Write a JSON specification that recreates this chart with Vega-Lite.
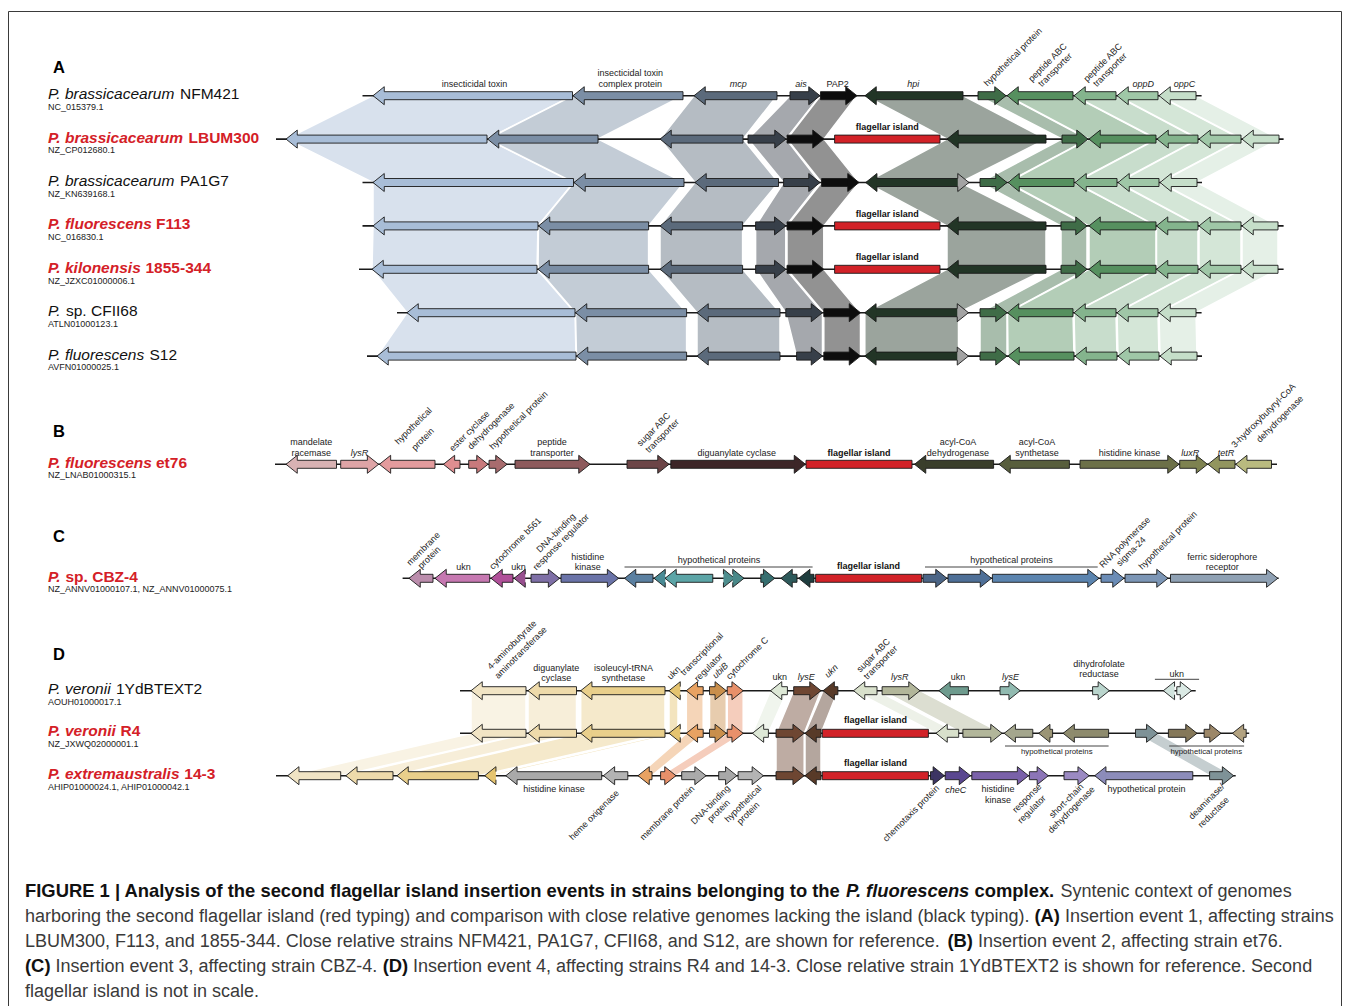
{
  "$schema": "https://vega.github.io/schema/vega-lite/v6.json",
  "width": 1357,
  "height": 1006,
  "autosize": {"type": "none"},
  "padding": 0,
  "background": "white",
  "config": {"view": {"stroke": null}, "text": {"font": "Liberation Sans, Arial, Helvetica, sans-serif"}},
  "datasets": {
    "frame": [
      {"x1": 8.5, "x2": 8.5, "y1": 11.5, "y2": 1006},
      {"x1": 8.5, "x2": 1341.5, "y1": 11.5, "y2": 11.5},
      {"x1": 1341.5, "x2": 1341.5, "y1": 11.5, "y2": 1006}
    ],
    "backbones": [
      {"track": 95.7, "left": 362.5, "right": 1201.6},
      {"track": 139.1, "left": 276, "right": 1283.6},
      {"track": 182.5, "left": 362.5, "right": 1202},
      {"track": 225.9, "left": 362.5, "right": 1283.6},
      {"track": 269.3, "left": 359, "right": 1283.6},
      {"track": 312.7, "left": 397, "right": 1201.6},
      {"track": 356.1, "left": 367, "right": 1202},
      {"track": 464.3, "left": 275, "right": 1277},
      {"track": 578.3, "left": 402.6, "right": 1278.7},
      {"track": 690.7, "left": 460, "right": 1195.7},
      {"track": 733.3, "left": 460, "right": 1249.2},
      {"track": 775.7, "left": 276, "right": 1235.7}
    ],
    "brackets": [
      {"track": 567, "left": 624.5, "right": 812.6},
      {"track": 567, "left": 925, "right": 1097.7},
      {"track": 679.3, "left": 1154.9, "right": 1199.1},
      {"track": 746, "left": 1005, "right": 1108.6},
      {"track": 746, "left": 1169.2, "right": 1244.1}
    ],
    "genes": [
      {"track": 95.7, "gene": "a_toxin", "strand": "L", "left": 373, "right": 572.5},
      {"track": 95.7, "gene": "a_complex", "strand": "L", "left": 573, "right": 683},
      {"track": 95.7, "gene": "a_mcp", "strand": "L", "left": 694, "right": 777},
      {"track": 95.7, "gene": "a_ais", "strand": "R", "left": 790, "right": 820},
      {"track": 95.7, "gene": "a_pap2", "strand": "R", "left": 820.5, "right": 857},
      {"track": 95.7, "gene": "a_hpi", "strand": "L", "left": 865, "right": 963},
      {"track": 95.7, "gene": "a_hyp", "strand": "R", "left": 978, "right": 1006},
      {"track": 95.7, "gene": "a_pep1", "strand": "L", "left": 1007, "right": 1073},
      {"track": 95.7, "gene": "a_pep2", "strand": "L", "left": 1074, "right": 1116},
      {"track": 95.7, "gene": "a_oppD", "strand": "L", "left": 1117, "right": 1158},
      {"track": 95.7, "gene": "a_oppC", "strand": "L", "left": 1159, "right": 1196},

      {"track": 139.1, "gene": "a_toxin", "strand": "L", "left": 286, "right": 487},
      {"track": 139.1, "gene": "a_complex", "strand": "L", "left": 487.5, "right": 598},
      {"track": 139.1, "gene": "a_mcp", "strand": "L", "left": 660, "right": 743},
      {"track": 139.1, "gene": "a_ais", "strand": "R", "left": 748, "right": 786},
      {"track": 139.1, "gene": "a_pap2", "strand": "R", "left": 787, "right": 824},
      {"track": 139.1, "gene": "flag", "strand": "N", "left": 834.6, "right": 940},
      {"track": 139.1, "gene": "a_hpi", "strand": "L", "left": 947, "right": 1046},
      {"track": 139.1, "gene": "a_hyp", "strand": "R", "left": 1062, "right": 1088},
      {"track": 139.1, "gene": "a_pep1", "strand": "L", "left": 1089, "right": 1156},
      {"track": 139.1, "gene": "a_pep2", "strand": "L", "left": 1157, "right": 1198},
      {"track": 139.1, "gene": "a_oppD", "strand": "L", "left": 1199, "right": 1241},
      {"track": 139.1, "gene": "a_oppC", "strand": "L", "left": 1242, "right": 1279},

      {"track": 182.5, "gene": "a_toxin", "strand": "L", "left": 373, "right": 573.5},
      {"track": 182.5, "gene": "a_complex", "strand": "L", "left": 574, "right": 684},
      {"track": 182.5, "gene": "a_mcp", "strand": "L", "left": 695, "right": 778.5},
      {"track": 182.5, "gene": "a_ais", "strand": "R", "left": 783.6, "right": 820},
      {"track": 182.5, "gene": "a_pap2", "strand": "R", "left": 821.6, "right": 859},
      {"track": 182.5, "gene": "a_hpi", "strand": "L", "left": 865.7, "right": 960},
      {"track": 182.5, "gene": "a_gray", "strand": "R", "left": 960.7, "right": 969},
      {"track": 182.5, "gene": "a_hyp", "strand": "R", "left": 980, "right": 1007},
      {"track": 182.5, "gene": "a_pep1", "strand": "L", "left": 1008, "right": 1074},
      {"track": 182.5, "gene": "a_pep2", "strand": "L", "left": 1075, "right": 1117},
      {"track": 182.5, "gene": "a_oppD", "strand": "L", "left": 1118, "right": 1159},
      {"track": 182.5, "gene": "a_oppC", "strand": "L", "left": 1160, "right": 1197},

      {"track": 225.9, "gene": "a_toxin", "strand": "L", "left": 373, "right": 538},
      {"track": 225.9, "gene": "a_complex", "strand": "L", "left": 538.5, "right": 648.6},
      {"track": 225.9, "gene": "a_mcp", "strand": "L", "left": 660, "right": 742.6},
      {"track": 225.9, "gene": "a_ais", "strand": "R", "left": 755.6, "right": 785.8},
      {"track": 225.9, "gene": "a_pap2", "strand": "R", "left": 787, "right": 823.8},
      {"track": 225.9, "gene": "flag", "strand": "N", "left": 834.6, "right": 940},
      {"track": 225.9, "gene": "a_hpi", "strand": "L", "left": 947, "right": 1046},
      {"track": 225.9, "gene": "a_hyp", "strand": "R", "left": 1061, "right": 1087},
      {"track": 225.9, "gene": "a_pep1", "strand": "L", "left": 1089, "right": 1156},
      {"track": 225.9, "gene": "a_pep2", "strand": "L", "left": 1156.5, "right": 1198},
      {"track": 225.9, "gene": "a_oppD", "strand": "L", "left": 1199, "right": 1241},
      {"track": 225.9, "gene": "a_oppC", "strand": "L", "left": 1242, "right": 1278},

      {"track": 269.3, "gene": "a_toxin", "strand": "L", "left": 372, "right": 537},
      {"track": 269.3, "gene": "a_complex", "strand": "L", "left": 538, "right": 648.6},
      {"track": 269.3, "gene": "a_mcp", "strand": "L", "left": 660, "right": 742.6},
      {"track": 269.3, "gene": "a_ais", "strand": "R", "left": 755.6, "right": 785.8},
      {"track": 269.3, "gene": "a_pap2", "strand": "R", "left": 787, "right": 823.8},
      {"track": 269.3, "gene": "flag", "strand": "N", "left": 834.6, "right": 940},
      {"track": 269.3, "gene": "a_hpi", "strand": "L", "left": 947, "right": 1046},
      {"track": 269.3, "gene": "a_hyp", "strand": "R", "left": 1061, "right": 1087},
      {"track": 269.3, "gene": "a_pep1", "strand": "L", "left": 1089, "right": 1156},
      {"track": 269.3, "gene": "a_pep2", "strand": "L", "left": 1156.5, "right": 1198},
      {"track": 269.3, "gene": "a_oppD", "strand": "L", "left": 1199, "right": 1241},
      {"track": 269.3, "gene": "a_oppC", "strand": "L", "left": 1242, "right": 1278},

      {"track": 312.7, "gene": "a_toxin", "strand": "L", "left": 407, "right": 575},
      {"track": 312.7, "gene": "a_complex", "strand": "L", "left": 575.5, "right": 686.6},
      {"track": 312.7, "gene": "a_mcp", "strand": "L", "left": 697, "right": 780},
      {"track": 312.7, "gene": "a_ais", "strand": "R", "left": 785.8, "right": 822.5},
      {"track": 312.7, "gene": "a_pap2", "strand": "R", "left": 823.8, "right": 860.5},
      {"track": 312.7, "gene": "a_hpi", "strand": "L", "left": 864.8, "right": 958.5},
      {"track": 312.7, "gene": "a_gray", "strand": "R", "left": 960, "right": 968.5},
      {"track": 312.7, "gene": "a_hyp", "strand": "R", "left": 980, "right": 1007},
      {"track": 312.7, "gene": "a_pep1", "strand": "L", "left": 1007.5, "right": 1073},
      {"track": 312.7, "gene": "a_pep2", "strand": "L", "left": 1074, "right": 1116},
      {"track": 312.7, "gene": "a_oppD", "strand": "L", "left": 1117, "right": 1158},
      {"track": 312.7, "gene": "a_oppC", "strand": "L", "left": 1159, "right": 1196},

      {"track": 356.1, "gene": "a_toxin", "strand": "L", "left": 377, "right": 576},
      {"track": 356.1, "gene": "a_complex", "strand": "L", "left": 576.5, "right": 686.6},
      {"track": 356.1, "gene": "a_mcp", "strand": "L", "left": 697, "right": 780},
      {"track": 356.1, "gene": "a_ais", "strand": "R", "left": 796.6, "right": 822.5},
      {"track": 356.1, "gene": "a_pap2", "strand": "R", "left": 823.8, "right": 860.5},
      {"track": 356.1, "gene": "a_hpi", "strand": "L", "left": 864.8, "right": 958.5},
      {"track": 356.1, "gene": "a_gray", "strand": "R", "left": 960, "right": 968.5},
      {"track": 356.1, "gene": "a_hyp", "strand": "R", "left": 980, "right": 1007},
      {"track": 356.1, "gene": "a_pep1", "strand": "L", "left": 1008, "right": 1074},
      {"track": 356.1, "gene": "a_pep2", "strand": "L", "left": 1075, "right": 1117},
      {"track": 356.1, "gene": "a_oppD", "strand": "L", "left": 1118, "right": 1159},
      {"track": 356.1, "gene": "a_oppC", "strand": "L", "left": 1160, "right": 1197},

      {"track": 464.3, "gene": "b_mand", "strand": "L", "left": 286, "right": 336.5},
      {"track": 464.3, "gene": "b_lysR", "strand": "R", "left": 340.7, "right": 378.6},
      {"track": 464.3, "gene": "b_hyp1", "strand": "L", "left": 379.4, "right": 435},
      {"track": 464.3, "gene": "b_ester", "strand": "L", "left": 443.4, "right": 460},
      {"track": 464.3, "gene": "b_dehyd", "strand": "R", "left": 468.7, "right": 488},
      {"track": 464.3, "gene": "b_hyp2", "strand": "R", "left": 489, "right": 507},
      {"track": 464.3, "gene": "b_pep", "strand": "R", "left": 515, "right": 590},
      {"track": 464.3, "gene": "b_sugar", "strand": "R", "left": 627, "right": 669},
      {"track": 464.3, "gene": "b_digu", "strand": "R", "left": 670.8, "right": 805.5},
      {"track": 464.3, "gene": "flag", "strand": "N", "left": 806, "right": 912},
      {"track": 464.3, "gene": "b_acylD", "strand": "L", "left": 914.5, "right": 993.6},
      {"track": 464.3, "gene": "b_acylS", "strand": "L", "left": 999, "right": 1069.4},
      {"track": 464.3, "gene": "b_hk", "strand": "R", "left": 1080, "right": 1179},
      {"track": 464.3, "gene": "b_luxR", "strand": "R", "left": 1179.7, "right": 1207.5},
      {"track": 464.3, "gene": "b_tetR", "strand": "L", "left": 1208, "right": 1235},
      {"track": 464.3, "gene": "b_hbd", "strand": "L", "left": 1235.7, "right": 1271.5},

      {"track": 578.3, "gene": "c_mem", "strand": "L", "left": 409, "right": 433},
      {"track": 578.3, "gene": "c_ukn1", "strand": "L", "left": 435, "right": 489.7},
      {"track": 578.3, "gene": "c_cyt", "strand": "L", "left": 491, "right": 513},
      {"track": 578.3, "gene": "c_ukn2", "strand": "L", "left": 514, "right": 523},
      {"track": 578.3, "gene": "c_dna", "strand": "R", "left": 531, "right": 559.6},
      {"track": 578.3, "gene": "c_hk", "strand": "R", "left": 561, "right": 618.6},
      {"track": 578.3, "gene": "c_h1", "strand": "L", "left": 624.5, "right": 653},
      {"track": 578.3, "gene": "c_h2", "strand": "L", "left": 654, "right": 663.6},
      {"track": 578.3, "gene": "c_h3", "strand": "L", "left": 665, "right": 712.8},
      {"track": 578.3, "gene": "c_h4", "strand": "R", "left": 726, "right": 734.7},
      {"track": 578.3, "gene": "c_h5", "strand": "R", "left": 734.7, "right": 744},
      {"track": 578.3, "gene": "c_h6", "strand": "R", "left": 760.8, "right": 774.7},
      {"track": 578.3, "gene": "c_h7", "strand": "L", "left": 781, "right": 797},
      {"track": 578.3, "gene": "c_h8", "strand": "L", "left": 798.7, "right": 814},
      {"track": 578.3, "gene": "flag", "strand": "N", "left": 815.6, "right": 921.7},
      {"track": 578.3, "gene": "c_h9", "strand": "R", "left": 923, "right": 947},
      {"track": 578.3, "gene": "c_h10", "strand": "R", "left": 948, "right": 991.5},
      {"track": 578.3, "gene": "c_h11", "strand": "R", "left": 992.4, "right": 1099},
      {"track": 578.3, "gene": "c_rna", "strand": "R", "left": 1101, "right": 1124},
      {"track": 578.3, "gene": "c_hyp", "strand": "R", "left": 1125, "right": 1168},
      {"track": 578.3, "gene": "c_fer", "strand": "R", "left": 1170.5, "right": 1277.8},

      {"track": 690.7, "gene": "d_gaba", "strand": "L", "left": 471, "right": 526},
      {"track": 690.7, "gene": "d_digu", "strand": "L", "left": 528, "right": 576.5},
      {"track": 690.7, "gene": "d_ile", "strand": "L", "left": 580.7, "right": 665},
      {"track": 690.7, "gene": "d_ukn", "strand": "L", "left": 669, "right": 678},
      {"track": 690.7, "gene": "d_trans", "strand": "L", "left": 686.3, "right": 703.2},
      {"track": 690.7, "gene": "d_ubiB", "strand": "R", "left": 709.5, "right": 726.3},
      {"track": 690.7, "gene": "d_cytC", "strand": "R", "left": 727.2, "right": 743.2},
      {"track": 690.7, "gene": "d_ukn2", "strand": "L", "left": 770.5, "right": 787.4},
      {"track": 690.7, "gene": "d_lysE", "strand": "R", "left": 793.7, "right": 821},
      {"track": 690.7, "gene": "d_ukn3", "strand": "L", "left": 823.1, "right": 837.9},
      {"track": 690.7, "gene": "d_sugar", "strand": "L", "left": 853.5, "right": 877},
      {"track": 690.7, "gene": "d_lysR", "strand": "R", "left": 882.1, "right": 920},
      {"track": 690.7, "gene": "d_ukn4", "strand": "L", "left": 938.9, "right": 968.4},
      {"track": 690.7, "gene": "d_lysE2", "strand": "R", "left": 1000, "right": 1020.2},
      {"track": 690.7, "gene": "d_dhfr", "strand": "R", "left": 1092.6, "right": 1109.4},
      {"track": 690.7, "gene": "d_ukn5", "strand": "L", "left": 1163.3, "right": 1171.7},
      {"track": 690.7, "gene": "d_ukn6", "strand": "R", "left": 1176.8, "right": 1191.5},

      {"track": 733.3, "gene": "d_gaba", "strand": "L", "left": 471, "right": 526},
      {"track": 733.3, "gene": "d_digu", "strand": "L", "left": 528, "right": 576.5},
      {"track": 733.3, "gene": "d_ile", "strand": "L", "left": 580.7, "right": 665},
      {"track": 733.3, "gene": "d_ukn", "strand": "L", "left": 669, "right": 678},
      {"track": 733.3, "gene": "d_trans", "strand": "L", "left": 686.3, "right": 703.2},
      {"track": 733.3, "gene": "d_ubiB", "strand": "R", "left": 709.5, "right": 726.3},
      {"track": 733.3, "gene": "d_cytC", "strand": "R", "left": 727.2, "right": 743.2},
      {"track": 733.3, "gene": "d_ukn2", "strand": "L", "left": 752.4, "right": 768.4},
      {"track": 733.3, "gene": "d_lysE", "strand": "R", "left": 776, "right": 804.2},
      {"track": 733.3, "gene": "d_ukn3", "strand": "L", "left": 805, "right": 821},
      {"track": 733.3, "gene": "flag", "strand": "N", "left": 822.3, "right": 928.4},
      {"track": 733.3, "gene": "d_sugar", "strand": "L", "left": 936, "right": 958.7},
      {"track": 733.3, "gene": "d_lysR", "strand": "R", "left": 962.9, "right": 1002},
      {"track": 733.3, "gene": "d_h1", "strand": "L", "left": 1004.2, "right": 1032.8},
      {"track": 733.3, "gene": "d_h2", "strand": "L", "left": 1038.7, "right": 1052.6},
      {"track": 733.3, "gene": "d_h3", "strand": "L", "left": 1063.1, "right": 1108.6},
      {"track": 733.3, "gene": "d_teal", "strand": "R", "left": 1135.5, "right": 1157.8},
      {"track": 733.3, "gene": "d_h4", "strand": "R", "left": 1168.4, "right": 1197},
      {"track": 733.3, "gene": "d_h5", "strand": "R", "left": 1204.1, "right": 1221},
      {"track": 733.3, "gene": "d_h6", "strand": "L", "left": 1232.4, "right": 1246.2},

      {"track": 775.7, "gene": "d_gaba", "strand": "L", "left": 287.7, "right": 340.7},
      {"track": 775.7, "gene": "d_digu", "strand": "L", "left": 345.8, "right": 393},
      {"track": 775.7, "gene": "d_ile", "strand": "L", "left": 397, "right": 478.4},
      {"track": 775.7, "gene": "d_ukn", "strand": "L", "left": 484.7, "right": 493},
      {"track": 775.7, "gene": "d_hk", "strand": "L", "left": 505.8, "right": 601.7},
      {"track": 775.7, "gene": "d_heme", "strand": "L", "left": 603.4, "right": 627.8},
      {"track": 775.7, "gene": "d_trans", "strand": "L", "left": 638, "right": 652},
      {"track": 775.7, "gene": "d_cytC", "strand": "R", "left": 660.6, "right": 676},
      {"track": 775.7, "gene": "d_memb", "strand": "R", "left": 681.7, "right": 706.1},
      {"track": 775.7, "gene": "d_dna", "strand": "R", "left": 718.7, "right": 736.8},
      {"track": 775.7, "gene": "d_hyp", "strand": "R", "left": 738.1, "right": 763.4},
      {"track": 775.7, "gene": "d_lysE", "strand": "R", "left": 776, "right": 804.2},
      {"track": 775.7, "gene": "d_ukn3", "strand": "L", "left": 805, "right": 821},
      {"track": 775.7, "gene": "flag", "strand": "N", "left": 822.3, "right": 928.4},
      {"track": 775.7, "gene": "d_chemo", "strand": "R", "left": 930.5, "right": 944.4},
      {"track": 775.7, "gene": "d_cheC", "strand": "R", "left": 945.2, "right": 970.5},
      {"track": 775.7, "gene": "d_hk2", "strand": "R", "left": 971.8, "right": 1028.6},
      {"track": 775.7, "gene": "d_rr", "strand": "R", "left": 1029.4, "right": 1048.4},
      {"track": 775.7, "gene": "d_sdr", "strand": "R", "left": 1064, "right": 1089.2},
      {"track": 775.7, "gene": "d_hyp2", "strand": "L", "left": 1094.7, "right": 1192.8},
      {"track": 775.7, "gene": "d_teal", "strand": "R", "left": 1209.6, "right": 1233.6}
    ],
    "letters": [
      {"x": 53, "y": 73.3, "text": "A"},
      {"x": 53, "y": 437, "text": "B"},
      {"x": 53, "y": 542, "text": "C"},
      {"x": 53, "y": 660, "text": "D"}
    ],
    "sp_it": [
      {"x": 48, "y": 99.2, "text": "P. brassicacearum"},
      {"x": 48, "y": 186, "text": "P. brassicacearum"},
      {"x": 48, "y": 316.2, "text": "P."},
      {"x": 48, "y": 359.6, "text": "P. fluorescens"},
      {"x": 48, "y": 693.5, "text": "P. veronii"}
    ],
    "sp_plain": [
      {"x": 180, "y": 99.2, "text": "NFM421"},
      {"x": 180, "y": 186, "text": "PA1G7"},
      {"x": 66, "y": 316.2, "text": "sp. CFII68"},
      {"x": 149.5, "y": 359.6, "text": "S12"},
      {"x": 116, "y": 693.5, "text": "1YdBTEXT2"}
    ],
    "sp_red_it": [
      {"x": 48, "y": 142.6, "text": "P. brassicacearum"},
      {"x": 48, "y": 229.4, "text": "P. fluorescens"},
      {"x": 48, "y": 272.8, "text": "P. kilonensis"},
      {"x": 48, "y": 467.5, "text": "P. fluorescens"},
      {"x": 48, "y": 581.5, "text": "P."},
      {"x": 48, "y": 736.3, "text": "P. veronii"},
      {"x": 48, "y": 779, "text": "P. extremaustralis"}
    ],
    "sp_red": [
      {"x": 188.5, "y": 142.6, "text": "LBUM300"},
      {"x": 156, "y": 229.4, "text": "F113"},
      {"x": 145.5, "y": 272.8, "text": "1855-344"},
      {"x": 156, "y": 467.5, "text": "et76"},
      {"x": 65.5, "y": 581.5, "text": "sp. CBZ-4"},
      {"x": 120.5, "y": 736.3, "text": "R4"},
      {"x": 184.3, "y": 779, "text": "14-3"}
    ],
    "accessions": [
      {"x": 48, "y": 110, "text": "NC_015379.1"},
      {"x": 48, "y": 153.4, "text": "NZ_CP012680.1"},
      {"x": 48, "y": 196.8, "text": "NZ_KN639168.1"},
      {"x": 48, "y": 240.2, "text": "NC_016830.1"},
      {"x": 48, "y": 283.6, "text": "NZ_JZXC01000006.1"},
      {"x": 48, "y": 327, "text": "ATLN01000123.1"},
      {"x": 48, "y": 370.4, "text": "AVFN01000025.1"},
      {"x": 48, "y": 478, "text": "NZ_LNAB01000315.1"},
      {"x": 48, "y": 592, "text": "NZ_ANNV01000107.1,  NZ_ANNV01000075.1"},
      {"x": 48, "y": 704.5, "text": "AOUH01000017.1"},
      {"x": 48, "y": 747, "text": "NZ_JXWQ02000001.1"},
      {"x": 48, "y": 789.5, "text": "AHIP01000024.1,  AHIP01000042.1"}
    ],
    "lab_c": [
      {"x": 474.5, "y": 87, "text": "insecticidal toxin"},
      {"x": 630.3, "y": 76, "text": "insecticidal toxin"},
      {"x": 630.3, "y": 87, "text": "complex protein"},
      {"x": 837.6, "y": 87, "text": "PAP2"},
      {"x": 311.2, "y": 445, "text": "mandelate"},
      {"x": 311.2, "y": 455.5, "text": "racemase"},
      {"x": 552, "y": 445, "text": "peptide"},
      {"x": 552, "y": 455.5, "text": "transporter"},
      {"x": 736.8, "y": 455.5, "text": "diguanylate cyclase"},
      {"x": 957.9, "y": 445, "text": "acyl-CoA"},
      {"x": 957.9, "y": 455.5, "text": "dehydrogenase"},
      {"x": 1037, "y": 445, "text": "acyl-CoA"},
      {"x": 1037, "y": 455.5, "text": "synthetase"},
      {"x": 1129.6, "y": 455.5, "text": "histidine kinase"},
      {"x": 463.6, "y": 570, "text": "ukn"},
      {"x": 518.4, "y": 570, "text": "ukn"},
      {"x": 587.8, "y": 560, "text": "histidine"},
      {"x": 587.8, "y": 570, "text": "kinase"},
      {"x": 719, "y": 563, "text": "hypothetical proteins"},
      {"x": 1011.5, "y": 563, "text": "hypothetical proteins"},
      {"x": 1222.2, "y": 560, "text": "ferric siderophore"},
      {"x": 1222.2, "y": 570, "text": "receptor"},
      {"x": 556.3, "y": 671, "text": "diguanylate"},
      {"x": 556.3, "y": 681, "text": "cyclase"},
      {"x": 623.6, "y": 671, "text": "isoleucyl-tRNA"},
      {"x": 623.6, "y": 681, "text": "synthetase"},
      {"x": 779.8, "y": 680, "text": "ukn"},
      {"x": 957.9, "y": 680, "text": "ukn"},
      {"x": 1098.9, "y": 667, "text": "dihydrofolate"},
      {"x": 1098.9, "y": 677, "text": "reductase"},
      {"x": 1176.8, "y": 676.5, "text": "ukn"},
      {"x": 554.1, "y": 791.7, "text": "histidine kinase"},
      {"x": 997.9, "y": 792, "text": "histidine"},
      {"x": 997.9, "y": 802.5, "text": "kinase"},
      {"x": 1146.5, "y": 792, "text": "hypothetical protein"}
    ],
    "lab_ci": [
      {"x": 738.3, "y": 87, "text": "mcp"},
      {"x": 800.9, "y": 87, "text": "ais"},
      {"x": 913.2, "y": 87, "text": "hpi"},
      {"x": 1143.3, "y": 87, "text": "oppD"},
      {"x": 1184.4, "y": 87, "text": "oppC"},
      {"x": 359.6, "y": 455.5, "text": "lysR"},
      {"x": 1190.3, "y": 455.5, "text": "luxR"},
      {"x": 1226, "y": 455.5, "text": "tetR"},
      {"x": 806.3, "y": 680, "text": "lysE"},
      {"x": 899.8, "y": 680, "text": "lysR"},
      {"x": 1010.5, "y": 680, "text": "lysE"},
      {"x": 955.8, "y": 793, "text": "cheC"}
    ],
    "lab_cb": [
      {"x": 887.3, "y": 130, "text": "flagellar island"},
      {"x": 887.3, "y": 216.7, "text": "flagellar island"},
      {"x": 887.3, "y": 260, "text": "flagellar island"},
      {"x": 859, "y": 455.5, "text": "flagellar island"},
      {"x": 868.6, "y": 569, "text": "flagellar island"},
      {"x": 875.4, "y": 722.5, "text": "flagellar island"},
      {"x": 875.4, "y": 766, "text": "flagellar island"}
    ],
    "lab_up": [
      {"x": 987.4, "y": 86.7, "text": "hypothetical protein"},
      {"x": 1031.9, "y": 82.3, "text": "peptide ABC"},
      {"x": 1041.8, "y": 87.3, "text": "transporter"},
      {"x": 1087.2, "y": 82.3, "text": "peptide ABC"},
      {"x": 1096.7, "y": 87.3, "text": "transporter"},
      {"x": 398.4, "y": 445, "text": "hypothetical"},
      {"x": 415.2, "y": 451, "text": "protein"},
      {"x": 453, "y": 451.7, "text": "ester cyclase"},
      {"x": 471.2, "y": 450, "text": "dehydrogenase"},
      {"x": 493, "y": 450, "text": "hypothetical protein"},
      {"x": 640.5, "y": 446.7, "text": "sugar ABC"},
      {"x": 648.9, "y": 453.3, "text": "transporter"},
      {"x": 1234.9, "y": 448.3, "text": "3-hydroxybutyryl-CoA"},
      {"x": 1260, "y": 443, "text": "dehydrogenase"},
      {"x": 410.2, "y": 566, "text": "membrane"},
      {"x": 421.5, "y": 569.3, "text": "protein"},
      {"x": 493, "y": 570, "text": "cytochrome b561"},
      {"x": 540, "y": 553, "text": "DNA-binding"},
      {"x": 536.5, "y": 570.7, "text": "response regulator"},
      {"x": 1103, "y": 568.3, "text": "RNA polymerase"},
      {"x": 1120, "y": 566.7, "text": "sigma-24"},
      {"x": 1142.3, "y": 570, "text": "hypothetical protein"},
      {"x": 491, "y": 670, "text": "4-aminobutyrate"},
      {"x": 498.2, "y": 679.3, "text": "aminotransferase"},
      {"x": 670.8, "y": 680, "text": "ukn"},
      {"x": 684, "y": 676, "text": "transcriptional"},
      {"x": 698, "y": 682, "text": "regulator"},
      {"x": 729.7, "y": 680, "text": "cytochrome C"},
      {"x": 860.2, "y": 672.7, "text": "sugar ABC"},
      {"x": 867.3, "y": 680, "text": "transporter"}
    ],
    "lab_upi": [
      {"x": 716, "y": 679, "text": "ubiB"},
      {"x": 828.2, "y": 678.3, "text": "ukn"}
    ],
    "lab_dn": [
      {"x": 617.3, "y": 791.7, "text": "heme oxigenase"},
      {"x": 693, "y": 787, "text": "membrane protein"},
      {"x": 728.4, "y": 786.7, "text": "DNA-binding"},
      {"x": 728.4, "y": 801, "text": "protein"},
      {"x": 760, "y": 786.7, "text": "hypothetical"},
      {"x": 757.9, "y": 803.3, "text": "protein"},
      {"x": 937.7, "y": 786.7, "text": "chemotaxis protein"},
      {"x": 1040, "y": 785, "text": "response"},
      {"x": 1044.2, "y": 796.7, "text": "regulator"},
      {"x": 1082, "y": 785, "text": "short-chain"},
      {"x": 1093.3, "y": 787.8, "text": "dehydrogenase"},
      {"x": 1223, "y": 785, "text": "deaminase/"},
      {"x": 1227.3, "y": 798.3, "text": "reductase"}
    ],
    "lab_sm": [
      {"x": 1056.8, "y": 754, "text": "hypothetical proteins"},
      {"x": 1206.3, "y": 754, "text": "hypothetical proteins"}
    ],
    "cap_b": [
      {"x": 25, "y": 897, "text": "FIGURE 1 | Analysis of the second flagellar island insertion events in strains belonging to the"},
      {"x": 974.5, "y": 897, "text": "complex."},
      {"x": 1034.4, "y": 922, "text": "(A)"},
      {"x": 947.4, "y": 947, "text": "(B)"},
      {"x": 25, "y": 972, "text": "(C)"},
      {"x": 382.7, "y": 972, "text": "(D)"}
    ],
    "cap_bi": [
      {"x": 846, "y": 897, "text": "P. fluorescens"}
    ],
    "cap_r": [
      {"x": 1060.5, "y": 897, "text": "Syntenic context of genomes"},
      {"x": 25, "y": 922, "text": "harboring the second flagellar island (red typing) and comparison with close relative genomes lacking the island (black typing)."},
      {"x": 1065, "y": 922, "text": "Insertion event 1, affecting strains"},
      {"x": 25, "y": 947, "text": "LBUM300, F113, and 1855-344. Close relative strains NFM421, PA1G7, CFII68, and S12, are shown for reference."},
      {"x": 978, "y": 947, "text": "Insertion event 2, affecting strain et76."},
      {"x": 55.5, "y": 972, "text": "Insertion event 3, affecting strain CBZ-4."},
      {"x": 413, "y": 972, "text": "Insertion event 4, affecting strains R4 and 14-3. Close relative strain 1YdBTEXT2 is shown for reference. Second"},
      {"x": 25, "y": 997, "text": "flagellar island is not in scale."}
    ]
  },
  "layer": [
    {
      "data": {"name": "frame"},
      "mark": {"type": "rule", "stroke": "#3a3a3a", "strokeWidth": 1},
      "encoding": {
        "x": {"field": "x1", "type": "quantitative", "scale": {"domain": [0, 1357], "nice": false, "zero": false}, "axis": null},
        "x2": {"field": "x2"},
        "y": {"field": "y1", "type": "quantitative", "scale": {"domain": [0, 1006], "reverse": true, "nice": false, "zero": false}, "axis": null},
        "y2": {"field": "y2"}
      }
    },
    {
      "data": {"name": "genes"},
      "encoding": {
        "y": {"field": "track", "type": "quantitative", "stack": null, "scale": {"domain": [0, 1006], "reverse": true, "nice": false, "zero": false}, "axis": null},
        "color": {
          "field": "gene", "type": "nominal", "legend": null,
          "scale": {
            "domain": ["a_toxin","a_complex","a_mcp","a_ais","a_pap2","a_hpi","a_gray","a_hyp","a_pep1","a_pep2","a_oppD","a_oppC","flag",
                       "b_mand","b_lysR","b_hyp1","b_ester","b_dehyd","b_hyp2","b_pep","b_sugar","b_digu","b_acylD","b_acylS","b_hk","b_luxR","b_tetR","b_hbd",
                       "c_mem","c_ukn1","c_cyt","c_ukn2","c_dna","c_hk","c_h1","c_h2","c_h3","c_h4","c_h5","c_h6","c_h7","c_h8","c_h9","c_h10","c_h11","c_rna","c_hyp","c_fer",
                       "d_gaba","d_digu","d_ile","d_ukn","d_trans","d_ubiB","d_cytC","d_ukn2","d_lysE","d_ukn3","d_sugar","d_lysR","d_ukn4","d_lysE2","d_dhfr","d_ukn5","d_ukn6",
                       "d_h1","d_h2","d_h3","d_teal","d_h4","d_h5","d_h6","d_hk","d_heme","d_memb","d_dna","d_hyp","d_chemo","d_cheC","d_hk2","d_rr","d_sdr","d_hyp2"],
            "range": ["#a8bdd7","#7b8ea5","#5b6a7b","#373f49","#0d0d0d","#223526","#a3a3a3","#3f6c47","#56905f","#84b48d","#9fc7a7","#c5dec9","#d22228",
                      "#d8b2b3","#dea4a6","#e39b9d","#df8e90","#c87a7c","#a86c6e","#8d5a5c","#6c4547","#3d2628","#3a3e2b","#585e3d","#6c7048","#7e8250","#92955f","#b9ba7f",
                      "#bb8dac","#c678b1","#b05099","#98508f","#7e6fa6","#6a73a8","#5b80a1","#4a8b95","#5ca5a7","#4d8d8d","#4a8989","#366e6f","#2e5a5b","#1f3e3f","#4b6586","#4e6f97","#5b84af","#6b8cb6","#7c96b6","#8fa1b4",
                      "#f1e4c4","#eedaaa","#e9cf8b","#e5c46f","#e8a262","#c98f4c","#e8906a","#dde8d6","#6e4632","#583a28","#d8e0cb","#b2b69a","#6e9b8e","#91bab0","#bad5cd","#d1e3dd","#dae9e4",
                      "#a4a68d","#9b9576","#8e8b6d","#7e9297","#857859","#9c8768","#b2a280","#a9a9a9","#b3b3b3","#aaaaaa","#a8a8a8","#b4b4b4","#3c3463","#5a4790","#7a61a9","#8c75b7","#9b8ac2","#8c8cba"]
          }
        }
      },
      "layer": [
        {
          "transform": [{"filter": "datum.gene !== 'flag' && datum.gene !== 'a_gray'"}],
          "mark": {"type": "area", "orient": "horizontal", "interpolate": "linear", "fillOpacity": 0.45, "stroke": "white", "strokeWidth": 1.5},
          "encoding": {
            "x": {"field": "left", "type": "quantitative", "stack": null, "scale": {"domain": [0, 1357], "nice": false, "zero": false}, "axis": null},
            "x2": {"field": "right"},
            "detail": {"field": "gene"}
          }
        },
        {
          "data": {"name": "backbones"},
          "mark": {"type": "rule", "strokeWidth": 1.6},
          "encoding": {
            "x": {"field": "left", "type": "quantitative", "scale": {"domain": [0, 1357], "nice": false, "zero": false}, "axis": null},
            "x2": {"field": "right"},
            "color": {"value": "#1a1a1a"}
          }
        },
        {
          "data": {"name": "brackets"},
          "mark": {"type": "rule", "strokeWidth": 1},
          "encoding": {
            "x": {"field": "left", "type": "quantitative", "scale": {"domain": [0, 1357], "nice": false, "zero": false}, "axis": null},
            "x2": {"field": "right"},
            "color": {"value": "#444444"}
          }
        },
        {
          "transform": [{"filter": "datum.strand === 'N'"}],
          "mark": {"type": "rect", "stroke": "#1a1a1a", "strokeWidth": 0.9, "yOffset": -4, "y2Offset": 4},
          "encoding": {
            "x": {"field": "left", "type": "quantitative", "scale": {"domain": [0, 1357], "nice": false, "zero": false}, "axis": null},
            "x2": {"field": "right"},
            "y2": {"field": "track"}
          }
        },
        {
          "transform": [{"filter": "datum.strand === 'L' && datum.right - datum.left > 11"}],
          "mark": {"type": "rect", "stroke": "#1a1a1a", "strokeWidth": 0.9, "yOffset": -4, "y2Offset": 4, "xOffset": 10},
          "encoding": {
            "x": {"field": "left", "type": "quantitative", "scale": {"domain": [0, 1357], "nice": false, "zero": false}, "axis": null},
            "x2": {"field": "right"},
            "y2": {"field": "track"}
          }
        },
        {
          "transform": [{"filter": "datum.strand === 'R' && datum.right - datum.left > 11"}],
          "mark": {"type": "rect", "stroke": "#1a1a1a", "strokeWidth": 0.9, "yOffset": -4, "y2Offset": 4, "x2Offset": -10},
          "encoding": {
            "x": {"field": "left", "type": "quantitative", "scale": {"domain": [0, 1357], "nice": false, "zero": false}, "axis": null},
            "x2": {"field": "right"},
            "y2": {"field": "track"}
          }
        },
        {
          "transform": [{"filter": "datum.strand === 'L'"}],
          "mark": {"type": "point", "filled": true, "opacity": 1, "size": 324, "stroke": "#1a1a1a", "strokeWidth": 0.9,
                   "shape": "M1.25,-0.45L1.25,-1L0,0L1.25,1L1.25,0.45"},
          "encoding": {
            "x": {"field": "left", "type": "quantitative", "scale": {"domain": [0, 1357], "nice": false, "zero": false}, "axis": null}
          }
        },
        {
          "transform": [{"filter": "datum.strand === 'R'"}],
          "mark": {"type": "point", "filled": true, "opacity": 1, "size": 324, "stroke": "#1a1a1a", "strokeWidth": 0.9,
                   "shape": "M-1.25,-0.45L-1.25,-1L0,0L-1.25,1L-1.25,0.45"},
          "encoding": {
            "x": {"field": "right", "type": "quantitative", "scale": {"domain": [0, 1357], "nice": false, "zero": false}, "axis": null}
          }
        }
      ]
    },
    {
      "encoding": {
        "x": {"field": "x", "type": "quantitative", "scale": {"domain": [0, 1357], "nice": false, "zero": false}, "axis": null},
        "y": {"field": "y", "type": "quantitative", "scale": {"domain": [0, 1006], "reverse": true, "nice": false, "zero": false}, "axis": null},
        "text": {"field": "text"}
      },
      "layer": [
        {"data": {"name": "letters"}, "mark": {"type": "text", "fontSize": 16.5, "fontWeight": "bold", "align": "left", "baseline": "alphabetic", "color": "#000000"}},
        {"data": {"name": "sp_it"}, "mark": {"type": "text", "fontSize": 15.5, "fontStyle": "italic", "align": "left", "baseline": "alphabetic", "color": "#111111"}},
        {"data": {"name": "sp_plain"}, "mark": {"type": "text", "fontSize": 15.5, "align": "left", "baseline": "alphabetic", "color": "#111111"}},
        {"data": {"name": "sp_red_it"}, "mark": {"type": "text", "fontSize": 15.5, "fontStyle": "italic", "fontWeight": "bold", "align": "left", "baseline": "alphabetic", "color": "#d42027"}},
        {"data": {"name": "sp_red"}, "mark": {"type": "text", "fontSize": 15.5, "fontWeight": "bold", "align": "left", "baseline": "alphabetic", "color": "#d42027"}},
        {"data": {"name": "accessions"}, "mark": {"type": "text", "fontSize": 9, "align": "left", "baseline": "alphabetic", "color": "#222222"}},
        {"data": {"name": "lab_c"}, "mark": {"type": "text", "fontSize": 9, "align": "center", "baseline": "alphabetic", "color": "#222222"}},
        {"data": {"name": "lab_ci"}, "mark": {"type": "text", "fontSize": 9, "fontStyle": "italic", "align": "center", "baseline": "alphabetic", "color": "#222222"}},
        {"data": {"name": "lab_cb"}, "mark": {"type": "text", "fontSize": 9, "fontWeight": "bold", "align": "center", "baseline": "alphabetic", "color": "#111111"}},
        {"data": {"name": "lab_up"}, "mark": {"type": "text", "fontSize": 9, "angle": -45, "align": "left", "baseline": "alphabetic", "color": "#222222"}},
        {"data": {"name": "lab_upi"}, "mark": {"type": "text", "fontSize": 9, "fontStyle": "italic", "angle": -45, "align": "left", "baseline": "alphabetic", "color": "#222222"}},
        {"data": {"name": "lab_dn"}, "mark": {"type": "text", "fontSize": 9, "angle": -45, "align": "right", "baseline": "middle", "color": "#222222"}},
        {"data": {"name": "lab_sm"}, "mark": {"type": "text", "fontSize": 7.8, "align": "center", "baseline": "alphabetic", "color": "#222222"}},
        {"data": {"name": "cap_b"}, "mark": {"type": "text", "fontSize": 18.4, "fontWeight": "bold", "align": "left", "baseline": "alphabetic", "color": "#111111"}},
        {"data": {"name": "cap_bi"}, "mark": {"type": "text", "fontSize": 18.4, "fontWeight": "bold", "fontStyle": "italic", "align": "left", "baseline": "alphabetic", "color": "#111111"}},
        {"data": {"name": "cap_r"}, "mark": {"type": "text", "fontSize": 18, "align": "left", "baseline": "alphabetic", "color": "#3a3a3a"}}
      ]
    }
  ]
}
